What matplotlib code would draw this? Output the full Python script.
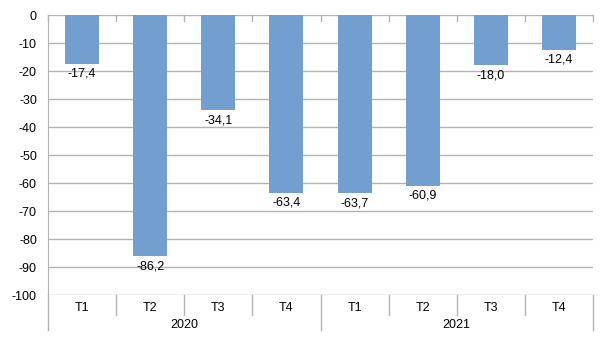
import matplotlib

matplotlib.use("Agg")
import matplotlib.pyplot as plt
import matplotlib.transforms as mtransforms
import numpy as np

plt.rcParams["font.family"] = ["Liberation Sans", "DejaVu Sans"]
plt.rcParams["axes.unicode_minus"] = False

years = ["2020", "2021"]
quarters = ["T1", "T2", "T3", "T4"]
values = [-17.4, -86.2, -34.1, -63.4, -63.7, -60.9, -18.0, -12.4]

BAR_COLOR = "#729fcf"
GRID_COLOR = "#b3b3b3"
FS = 9

fig = plt.figure(figsize=(6.05, 3.4), dpi=100)
ax = fig.add_axes([48 / 605, 1 - 295 / 340, 545 / 605, 280 / 340])

n = len(values)
x = np.arange(n)
ax.bar(x, values, width=0.5, color=BAR_COLOR, zorder=2)

for xi, v in zip(x, values):
    ax.annotate(f"{v:.1f}".replace(".", ","), (xi, v), xytext=(0, -3),
                textcoords="offset points", ha="center", va="top", fontsize=FS)

ax.set_xlim(-0.5, n - 0.5)
ax.set_ylim(-100, 0)
ax.set_yticks(np.arange(-100, 1, 10))
ax.set_yticklabels([f"{t}" for t in range(-100, 1, 10)], fontsize=FS)
ax.yaxis.grid(True, color=GRID_COLOR, lw=1, zorder=0)
ax.tick_params(axis="y", length=0, pad=8)
ax.set_xticks([])

for side in ["top", "right", "bottom"]:
    ax.spines[side].set_visible(False)
ax.spines["left"].set_color(GRID_COLOR)
ax.spines["left"].set_bounds(-100, 0)

# hierarchical category axis: quarters, then years underneath
trans = mtransforms.blended_transform_factory(ax.transData, ax.transAxes)
px = 1 / 280
for b in np.arange(n + 1) - 0.5:
    # small tick where the axis crosses zero
    ax.plot([b, b], [1, 1 - 6 * px], color=GRID_COLOR, lw=1, transform=trans, clip_on=False)
    is_year_edge = (b + 0.5) % len(quarters) == 0
    depth = 35 if is_year_edge else 20
    ax.plot([b, b], [0, -depth * px], color=GRID_COLOR, lw=1, transform=trans, clip_on=False)

for i in range(n):
    ax.text(x[i], -13 * px, quarters[i % len(quarters)], transform=trans,
            ha="center", va="center", fontsize=FS)
for j, yr in enumerate(years):
    center = j * len(quarters) + (len(quarters) - 1) / 2
    ax.text(center, -30 * px, yr, transform=trans, ha="center", va="center", fontsize=FS)

fig.savefig("out.png", dpi=100)
